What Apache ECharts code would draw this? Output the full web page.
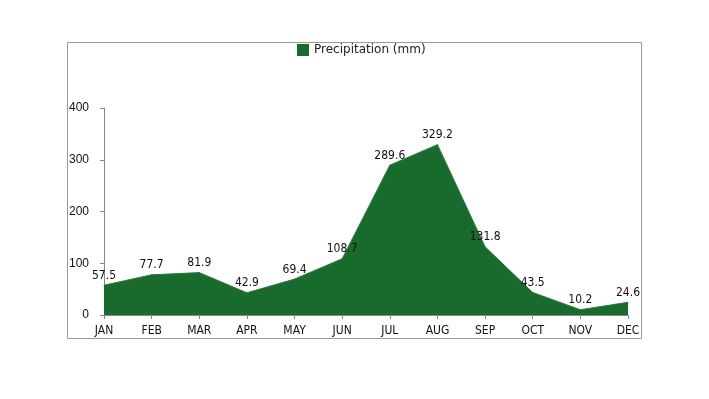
<!DOCTYPE html>
<html>
<head>
<meta charset="utf-8">
<script src="https://cdn.jsdelivr.net/npm/echarts@6/dist/echarts.min.js"></script>
<style>
  html, body { margin: 0; padding: 0; background: #fff; }
  #chart { width: 709px; height: 399px; }
</style>
</head>
<body>
<div id="chart"></div>
<script>
const months = ['JAN', 'FEB', 'MAR', 'APR', 'MAY', 'JUN', 'JUL', 'AUG', 'SEP', 'OCT', 'NOV', 'DEC'];
const precipitation = [57.5, 77.7, 81.9, 42.9, 69.4, 108.7, 289.6, 329.2, 131.8, 43.5, 10.2, 24.6];
const yTicks = [0, 100, 200, 300, 400];

const myChart = echarts.init(document.getElementById('chart'));

const option = {
    animation: false,
    color: ['#186b2c'],
    graphic: [{
        type: 'rect',
        shape: { x: 67.5, y: 42.5, width: 574, height: 296 },
        style: { fill: 'none', stroke: '#9a9a9a', lineWidth: 1 },
        silent: true,
    }],
    legend: {
        data: ['Precipitation (mm)'],
        top: 39,
        left: 292,
        itemWidth: 12,
        itemHeight: 12,
        itemGap: 7,
        icon: 'rect',
        textStyle: { fontFamily: 'DejaVu Sans', fontSize: 12, color: '#222' },
    },
    grid: {
        left: 104,
        right: 81,
        top: 108,
        bottom: 84,
        containLabel: false,
    },
    xAxis: {
        type: 'category',
        data: months,
        boundaryGap: false,
        axisLine: { lineStyle: { color: '#888' } },
        axisTick: { show: true, alignWithLabel: true, length: 4, lineStyle: { color: '#888' } },
        axisLabel: { color: '#111', fontFamily: 'DejaVu Sans Condensed', fontSize: 12, margin: 10 },
    },
    yAxis: {
        type: 'value',
        min: yTicks[0],
        max: yTicks[yTicks.length - 1],
        interval: 100,
        splitLine: { show: false },
        axisLine: { show: true, lineStyle: { color: '#888' } },
        axisTick: { show: true, length: 4, lineStyle: { color: '#888' } },
        axisLabel: { color: '#111', fontFamily: 'Liberation Sans', fontSize: 12, margin: 15 },
    },
    series: [{
        name: 'Precipitation (mm)',
        type: 'line',
        data: precipitation,
        symbol: 'circle',
        symbolSize: 1,
        showSymbol: true,
        itemStyle: { color: '#186b2c' },
        lineStyle: { width: 1, color: '#2f7a3f' },
        areaStyle: { color: '#186b2c', opacity: 1 },
        label: {
            show: true,
            position: 'top',
            color: '#111',
            fontFamily: 'DejaVu Sans Condensed',
            fontSize: 12,
            distance: 3,
        },
    }],
};

myChart.setOption(option);
</script>
</body>
</html>
